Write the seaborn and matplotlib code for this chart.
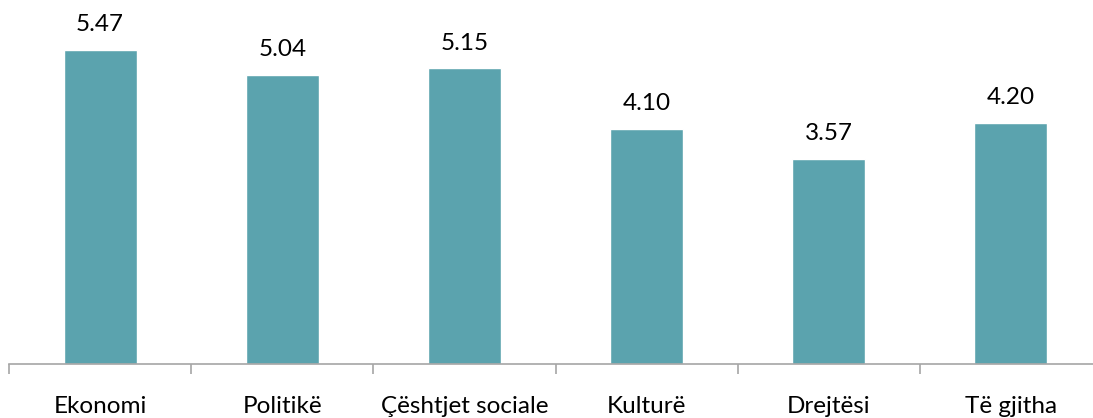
import matplotlib
matplotlib.use("Agg")
import matplotlib.pyplot as plt
import pandas as pd
import seaborn as sns

categories = ["Ekonomi", "Politikë", "Çështjet sociale", "Kulturë", "Drejtësi", "Të gjitha"]
values = [5.47, 5.04, 5.15, 4.10, 3.57, 4.20]

BAR_COLOR = "#5ba3ae"
AXIS_COLOR = "#a6a6a6"

sns.set_theme(style="white")
plt.rcParams["font.family"] = ["Lato", "DejaVu Sans"]

df = pd.DataFrame({"category": categories, "value": values})

fig = plt.figure(figsize=(10.93, 4.18), dpi=100)
ax = fig.add_axes([9 / 1093, 54 / 418, 1093 / 1093, 364 / 418])

sns.barplot(data=df, x="category", y="value", color=BAR_COLOR, width=0.4,
            saturation=1, ax=ax)

ax.set_xlim(-0.5, 5.5)
ax.set_ylim(0, 6.34)

for i, v in enumerate(values):
    ax.annotate(f"{v:.2f}", (i, v), xytext=(0, 13.5), textcoords="offset points",
                ha="center", va="baseline", fontsize=17.5, color="#000000")

for side in ["top", "right", "left"]:
    ax.spines[side].set_visible(False)
ax.spines["bottom"].set_color(AXIS_COLOR)
ax.spines["bottom"].set_linewidth(1.2)
ax.set_yticks([])

# ticks sit on category boundaries, labels on centres
ax.set_xticks([i - 0.5 for i in range(len(categories) + 1)], minor=True)
ax.tick_params(axis="x", which="minor", bottom=True, length=7, width=1.2,
               color=AXIS_COLOR, direction="out")
ax.tick_params(axis="x", which="major", bottom=False, length=0, pad=23,
               labelsize=17.5, labelcolor="#000000")
ax.set_xlabel("")
ax.set_ylabel("")

fig.savefig("out.png", dpi=100)
